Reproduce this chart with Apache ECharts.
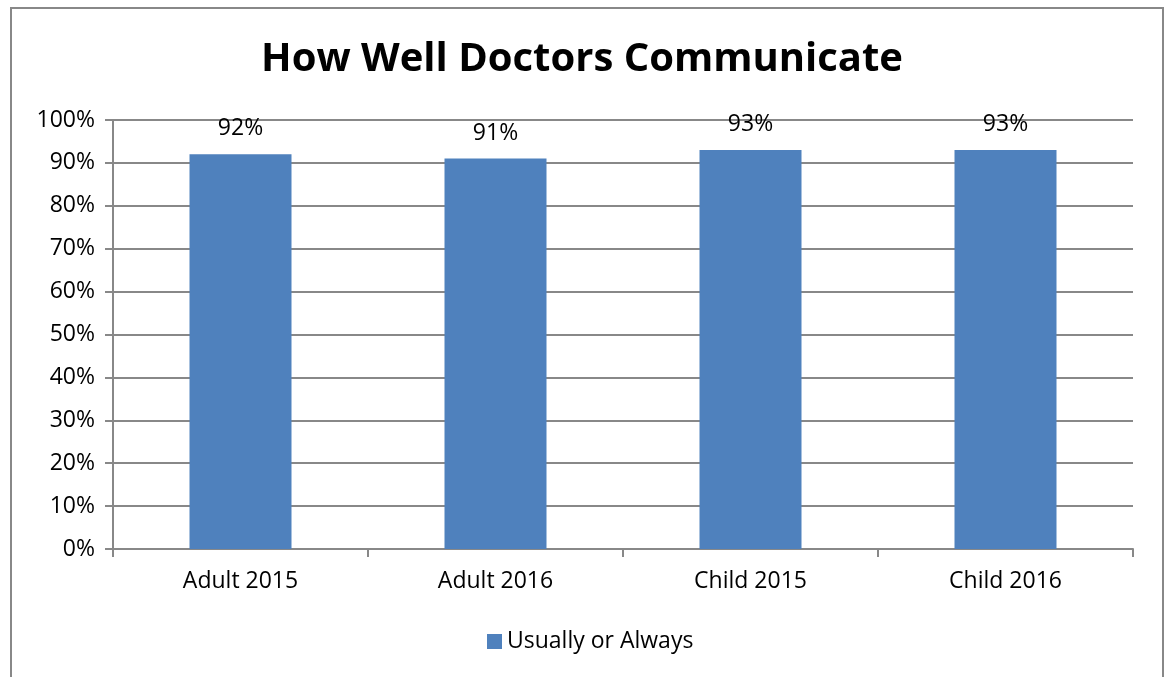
<!DOCTYPE html>
<html>
<head>
<meta charset="utf-8">
<script src="https://cdn.jsdelivr.net/npm/echarts@6/dist/echarts.min.js"></script>
<style>
  html, body { margin: 0; padding: 0; background: #ffffff; }
  #chart { width: 1164px; height: 677px; }
</style>
</head>
<body>
<div id="chart"></div>
<script>
// Survey results: share answering "Usually or Always"
const categories = ['Adult 2015', 'Adult 2016', 'Child 2015', 'Child 2016'];
const usuallyOrAlways = [92, 91, 93, 93];
const seriesName = 'Usually or Always';
const titleText = 'How Well Doctors Communicate';

const FONT = '"Open Sans", Lato, sans-serif';
const GRAY = '#888888';

const chart = echarts.init(document.getElementById('chart'), null, { renderer: 'canvas' });

chart.setOption({
  backgroundColor: '#ffffff',
  animation: false,
  graphic: [{
    type: 'rect',
    shape: { x: 11, y: 8, width: 1152, height: 690 },
    style: { fill: 'none', stroke: GRAY, lineWidth: 2 },
    z: -1
  }],
  title: {
    text: titleText,
    left: 'center',
    top: 35,
    textStyle: { fontFamily: FONT, fontSize: 40, fontWeight: 'bold', color: '#000' }
  },
  legend: {
    data: [seriesName],
    bottom: 19,
    left: 482,
    icon: 'rect',
    itemWidth: 15,
    itemHeight: 15,
    itemGap: 6,
    textStyle: { fontFamily: FONT, fontSize: 23, color: '#000' }
  },
  grid: { left: 113, right: 31, top: 120, bottom: 128, containLabel: false },
  xAxis: {
    type: 'category',
    data: categories,
    axisLine: { lineStyle: { color: GRAY, width: 2 } },
    axisTick: { show: true, length: 8, lineStyle: { color: GRAY, width: 2 } },
    axisLabel: { fontFamily: FONT, fontSize: 23, color: '#000', margin: 21 }
  },
  yAxis: {
    type: 'value',
    min: 0,
    max: 100,
    interval: 10,
    axisLine: { show: true, lineStyle: { color: GRAY, width: 2 } },
    axisTick: { show: true, length: 8, lineStyle: { color: GRAY, width: 2 } },
    splitLine: { lineStyle: { color: GRAY, width: 2 } },
    axisLabel: { fontFamily: FONT, fontSize: 23, color: '#000', margin: 18, formatter: '{value}%' }
  },
  series: [{
    name: seriesName,
    type: 'bar',
    data: usuallyOrAlways,
    barWidth: '40%',
    itemStyle: { color: '#4F81BD' },
    label: {
      show: true,
      position: 'top',
      distance: 14,
      formatter: '{c}%',
      fontFamily: FONT,
      fontSize: 23,
      color: '#000'
    }
  }]
});
</script>
</body>
</html>
